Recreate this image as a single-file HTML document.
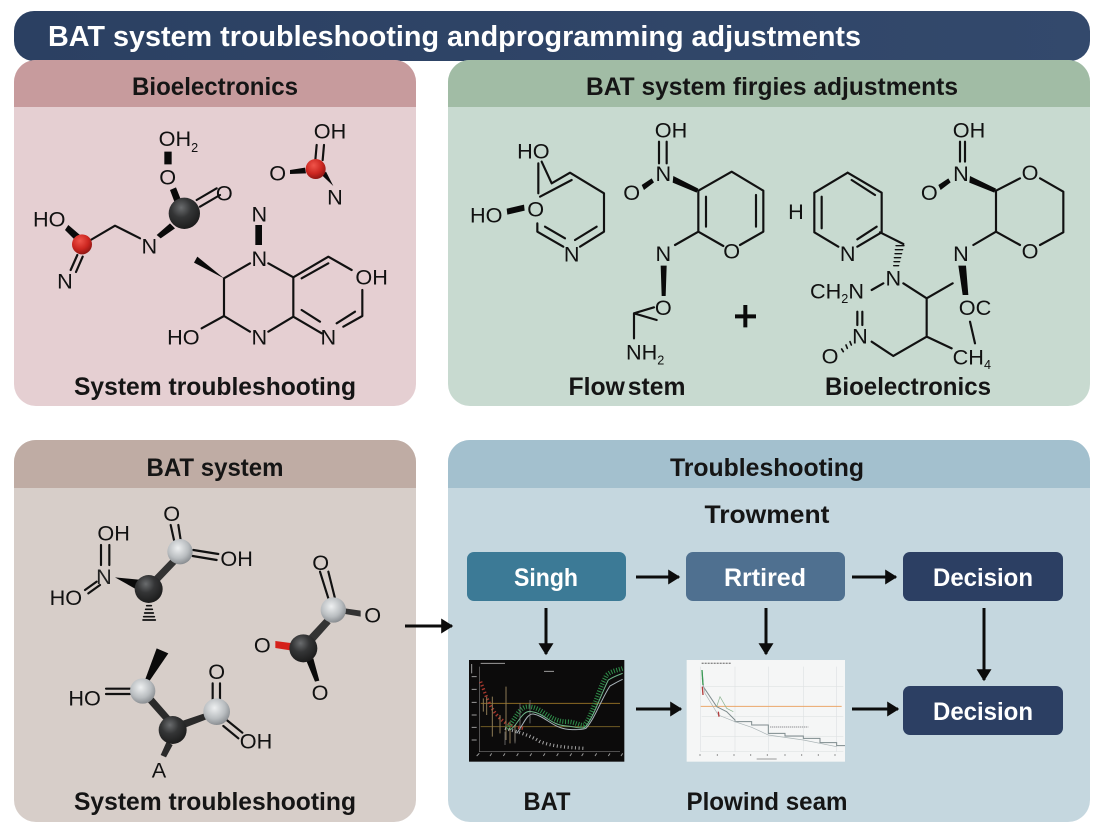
<!DOCTYPE html>
<html><head><meta charset="utf-8"><title>BAT system troubleshooting</title>
<style>
html,body{margin:0;padding:0;background:#fff;width:1104px;height:832px;overflow:hidden}
svg{display:block}
text{font-family:"Liberation Sans",sans-serif;fill:#141414}
.h{font-weight:700;font-size:25px;fill:#151515;text-anchor:middle}
.b{font-weight:700;font-size:25px;fill:#fff;text-anchor:middle}
.t{font-size:65px;fill:#111}
.c{text-anchor:middle}
.s{font-size:38px}
.l{fill:none;stroke:#111;stroke-width:6.5;stroke-linecap:round;stroke-linejoin:round}
.a{fill:none;stroke:#0c0c0c;stroke-width:3}
</style></head><body>
<svg width="1104" height="832" viewBox="0 0 1104 832" xmlns="http://www.w3.org/2000/svg">
<defs>
<radialGradient id="k" cx="40%" cy="32%" r="70%"><stop offset="0" stop-color="#6a6c6e"/><stop offset=".45" stop-color="#343536"/><stop offset="1" stop-color="#1b1b1b"/></radialGradient>
<radialGradient id="g" cx="42%" cy="36%" r="68%"><stop offset="0" stop-color="#eef0f1"/><stop offset=".6" stop-color="#b9bdc0"/><stop offset="1" stop-color="#83878b"/></radialGradient>
<radialGradient id="r" cx="40%" cy="32%" r="70%"><stop offset="0" stop-color="#f0544a"/><stop offset=".6" stop-color="#cc2620"/><stop offset="1" stop-color="#8d1613"/></radialGradient>
<linearGradient id="tb" x1="0" x2="1" y1="0" y2="0"><stop offset="0" stop-color="#2b4062"/><stop offset="1" stop-color="#33496c"/></linearGradient>
<marker id="ah" markerWidth="5" markerHeight="5" refX="3.6" refY="2.5" orient="auto" markerUnits="strokeWidth"><path d="M0,0L4,2.5L0,5z" fill="#0c0c0c"/></marker>
</defs>

<!-- title -->
<rect x="14" y="11" width="1076" height="50" rx="20" fill="url(#tb)"/>
<text x="48" y="46" font-size="29" font-weight="700" style="fill:#fff" textLength="813" lengthAdjust="spacingAndGlyphs">BAT system troubleshooting andprogramming adjustments</text>

<!-- panels -->
<rect x="14" y="60" width="402" height="346" rx="22" fill="#e5cfd2"/>
<path d="M14,107V82a22,22 0 0 1 22,-22H394a22,22 0 0 1 22,22V107z" fill="#c79b9d"/>
<rect x="448" y="60" width="642" height="346" rx="22" fill="#c8dad0"/>
<path d="M448,107V82a22,22 0 0 1 22,-22H1068a22,22 0 0 1 22,22V107z" fill="#a1bca5"/>
<rect x="14" y="440" width="402" height="382" rx="22" fill="#d7cec9"/>
<path d="M14,488V462a22,22 0 0 1 22,-22H394a22,22 0 0 1 22,22V488z" fill="#bfaca4"/>
<rect x="448" y="440" width="642" height="382" rx="22" fill="#c5d7df"/>
<path d="M448,488V462a22,22 0 0 1 22,-22H1068a22,22 0 0 1 22,22V488z" fill="#a3c0ce"/>

<!-- headings -->
<text class="h" x="215" y="95" textLength="166" lengthAdjust="spacingAndGlyphs">Bioelectronics</text>
<text class="h" x="772" y="95" textLength="372" lengthAdjust="spacingAndGlyphs">BAT system firgies adjustments</text>
<text class="h" x="215" y="476" textLength="137" lengthAdjust="spacingAndGlyphs">BAT system</text>
<text class="h" x="767" y="476" textLength="194" lengthAdjust="spacingAndGlyphs">Troubleshooting</text>
<text class="h" x="767" y="523" textLength="125" lengthAdjust="spacingAndGlyphs">Trowment</text>
<text class="h" x="215" y="395" textLength="282" lengthAdjust="spacingAndGlyphs">System troubleshooting</text>
<text class="h" x="627" y="395" textLength="117" lengthAdjust="spacingAndGlyphs" style="word-spacing:-4px">Flow stem</text>
<text class="h" x="908" y="395" textLength="166" lengthAdjust="spacingAndGlyphs">Bioelectronics</text>
<text class="h" x="215" y="810" textLength="282" lengthAdjust="spacingAndGlyphs">System troubleshooting</text>
<text class="h" x="547" y="810" textLength="47" lengthAdjust="spacingAndGlyphs">BAT</text>
<text class="h" x="767" y="810" textLength="161" lengthAdjust="spacingAndGlyphs">Plowind seam</text>

<!-- Panel 1 molecules -->
<g transform="translate(0,60) scale(.33333)">
<path class="l" d="M750,610L672,655L672,768L750,815M805,815L880,770L880,652L805,610M880,652L985,590L1055,630M905,655L985,610M1087,690V768L1030,800M1065,755L1010,790M880,770L965,820M905,750L960,785M605,805L672,768M420,535L345,497L272,540M590,420L650,385M600,440L660,405"/>
<path d="M672,655L582,608L592,590z" fill="#0a0a0a"/>
<path d="M766,495h20v60h-20zM493,275h22v38h-22z" fill="#0a0a0a"/>
<path d="M510,390L528,382L545,425L525,430zM470,525L482,535L525,505L510,490zM195,510L205,495L240,525L225,540zM870,330L915,323L918,340L870,342zM965,345L978,335L1000,378z" fill="#0a0a0a"/>
<path class="l" d="M212,630L232,585M228,636L248,590M950,255L946,300M972,255L968,300"/>
<circle cx="553" cy="460" r="47" fill="url(#k)"/><circle cx="246" cy="553" r="30" fill="url(#r)"/><circle cx="947" cy="327" r="30" fill="url(#r)"/>
<text class="t" x="476" y="258">OH<tspan class="s" dy="18">2</tspan></text>
<text class="t c" x="503" y="374">O</text><text class="t c" x="673" y="422">O</text>
<text class="t" x="99" y="500">HO</text><text class="t c" x="195" y="685">N</text><text class="t c" x="448" y="581">N</text>
<text class="t c" x="990" y="236">OH</text><text class="t c" x="833" y="361">O</text><text class="t c" x="1005" y="434">N</text>
<text class="t c" x="778" y="484">N</text><text class="t c" x="778" y="618">N</text><text class="t c" x="1115" y="674">OH</text>
<text class="t c" x="985" y="854">N</text><text class="t c" x="778" y="854">N</text><text class="t c" x="550" y="854">HO</text>
</g>

<!-- Panel 2 molecule left + middle -->
<g transform="translate(450,100) scale(.33333)">
<path class="l" d="M265,190V280M275,185L305,250M270,290L365,240M305,250L360,218L462,280V395L390,440M440,380L375,420M262,370V395L340,440M285,380L345,415"/>
<path d="M170,326L222,314L224,332L172,344z" fill="#0a0a0a"/>
<text class="t c" x="250" y="175">HO</text><text class="t" x="60" y="368">HO</text><text class="t c" x="257" y="350">O</text><text class="t c" x="365" y="485">N</text>
<path class="l" d="M627,125V190M650,125V190M745,272L845,215L940,272V395L870,435M918,285V380M745,272V395L820,438M768,290V380M745,395L675,435M612,622L552,640V715M552,640L620,660"/>
<path d="M575,255L605,235L612,247L582,270zM670,228L745,266L740,278L668,248zM632,497H650L647,588H635z" fill="#0a0a0a"/>
<path d="M855,643H918V655H855zM880,615H892V682H880z" fill="#0a0a0a"/>
<text class="t c" x="663" y="113">OH</text><text class="t c" x="640" y="243">N</text><text class="t c" x="545" y="300">O</text><text class="t c" x="845" y="475">O</text><text class="t c" x="640" y="483">N</text><text class="t c" x="640" y="645">O</text>
<text class="t" x="528" y="778">NH<tspan class="s" dy="16">2</tspan></text>
</g>

<!-- Panel 2 molecule right -->
<g transform="translate(770,100) scale(.33333)">
<path class="l" d="M570,125V185M585,125V185M678,272L750,235M810,235L880,275V397L810,435M750,435L678,395M678,272V395M678,395L610,435M600,665L615,730M330,397L400,432M233,218L335,278V397L262,440M233,218L133,278V397L205,440M245,240L315,285M155,290V385M320,380L262,418M305,570L340,550M262,635V675M277,635V675M305,725L370,768L470,710L545,745M470,710V595L400,550M470,595L548,550"/>
<path d="M505,255L535,235L542,247L512,270zM600,228L678,266L673,278L598,248zM565,497H588L595,585H578z" fill="#0a0a0a"/>
<path class="l" style="stroke-width:4" d="M378,437H402M376,449H398M375,461H395M373,473H392M372,485H389M371,497H386"/>
<path class="l" style="stroke-width:5" d="M215,747L220,755M228,735L232,745M240,725L244,735"/>
<text class="t c" x="597" y="113">OH</text><text class="t c" x="573" y="243">N</text><text class="t c" x="478" y="300">O</text><text class="t c" x="780" y="240">O</text><text class="t c" x="780" y="475">O</text><text class="t c" x="573" y="483">N</text>
<text class="t c" x="615" y="645">OC</text><text class="t" x="548" y="793">CH<tspan class="s" dy="14">4</tspan></text>
<text class="t c" x="370" y="557">N</text><text class="t c" x="233" y="483">N</text><text class="t c" x="78" y="357">H</text>
<text class="t" x="120" y="595">CH<tspan class="s" dy="14">2</tspan><tspan dy="-14">N</tspan></text>
<text class="t c" x="270" y="730">N</text><text class="t c" x="180" y="790">O</text>
</g>

<!-- Panel 3 molecules -->
<g transform="translate(20,490) scale(.33333)">
<path class="l" d="M243,165V225M268,165V225M195,300L230,275M205,310L240,285M452,105L462,150M475,105L482,150M520,180L595,192M518,198L590,210"/>
<path d="M285,262L385,272L370,310z" fill="#0a0a0a"/>
<path d="M400,262L455,205L470,220L418,275z" fill="#333"/>
<path class="l" style="stroke-width:5" d="M380,347H394M377,358H397M374,369H400M371,380H403M369,390H406"/>
<circle cx="386" cy="297" r="42" fill="url(#k)"/><circle cx="480" cy="185" r="38" fill="url(#g)"/>
<text class="t c" x="281" y="152">OH</text><text class="t c" x="252" y="282" style="fill:#222">N</text><text class="t" x="89" y="345">HO</text><text class="t c" x="455" y="93">O</text><text class="t c" x="650" y="228">OH</text>

<path class="l" d="M900,245L925,325M925,245L945,325"/>
<path d="M975,355L1022,362V380L975,372zM850,455L915,385L932,400L870,470z" fill="#333"/>
<path d="M766,453L820,460L816,482L766,474z" fill="#d5211a"/>
<path d="M860,515L880,505L898,572L885,575z" fill="#0a0a0a"/>
<circle cx="940" cy="360" r="38" fill="url(#g)"/><circle cx="850" cy="475" r="42" fill="url(#k)"/>
<text class="t c" x="902" y="240">O</text><text class="t c" x="1058" y="397">O</text><text class="t c" x="727" y="487">O</text><text class="t c" x="900" y="630">O</text>

<path d="M410,475L445,490L385,578L375,570z" fill="#0a0a0a"/>
<path class="l" d="M258,596H330M258,612H330M578,580V630M600,580V630M620,690L667,728M610,708L655,745"/>
<path d="M382,635L398,620L455,685L440,700zM480,695L560,668L565,686L490,715zM440,755L458,765L438,802L422,795z" fill="#2a2a2a"/>
<circle cx="368" cy="603" r="38" fill="url(#g)"/><circle cx="458" cy="720" r="42" fill="url(#k)"/><circle cx="590" cy="665" r="40" fill="url(#g)"/>
<text class="t" x="145" y="646">HO</text><text class="t c" x="590" y="567">O</text><text class="t c" x="708" y="775">OH</text><text class="t c" x="417" y="862">A</text>
</g>

<!-- Flow boxes -->
<rect x="467" y="552" width="159" height="49" rx="7" fill="#3c7a96"/>
<rect x="686" y="552" width="159" height="49" rx="7" fill="#4f7090"/>
<rect x="903" y="552" width="160" height="49" rx="7" fill="#2c3f63"/>
<rect x="903" y="686" width="160" height="49" rx="7" fill="#2c3f63"/>
<text class="b" x="546" y="586" textLength="64" lengthAdjust="spacingAndGlyphs">Singh</text>
<text class="b" x="765" y="586" textLength="82" lengthAdjust="spacingAndGlyphs">Rrtired</text>
<text class="b" x="983" y="586" textLength="100" lengthAdjust="spacingAndGlyphs">Decision</text>
<text class="b" x="983" y="720" textLength="100" lengthAdjust="spacingAndGlyphs">Decision</text>

<!-- Arrows -->
<path class="a" d="M405,626H452" marker-end="url(#ah)"/>
<path class="a" d="M636,577H679" marker-end="url(#ah)"/>
<path class="a" d="M852,577H896" marker-end="url(#ah)"/>
<path class="a" d="M546,608V654" marker-end="url(#ah)"/>
<path class="a" d="M766,608V654" marker-end="url(#ah)"/>
<path class="a" d="M984,608V680" marker-end="url(#ah)"/>
<path class="a" d="M636,709H681" marker-end="url(#ah)"/>
<path class="a" d="M852,709H898" marker-end="url(#ah)"/>

<!-- Charts -->
<g transform="translate(460,650) scale(.33333)">
<rect x="27" y="30" width="466" height="305" fill="#0c0b0b"/>
<path d="M58,50V305H480" fill="none" stroke="#777" stroke-width="2"/>
<path d="M62,160H480" stroke="#8b6a24" stroke-width="3" fill="none"/>
<path d="M62,230H480" stroke="#6e5a24" stroke-width="3" fill="none"/>
<path d="M62,95C75,130 90,175 115,200C135,220 150,228 190,235" fill="none" stroke="#a8382e" stroke-width="10" stroke-dasharray="4 7"/>
<path d="M70,145V185M80,140V195M97,140V260M120,195V250M138,110V270M150,215V280M165,225V275" stroke="#8b7a55" stroke-width="3" fill="none"/>
<path d="M140,235C165,215 175,165 210,170C250,175 270,215 320,215C345,215 360,228 372,225C395,205 410,130 440,75C455,62 475,60 488,55" fill="none" stroke="#2f8f4a" stroke-width="14" stroke-dasharray="3 5"/>
<path d="M150,240C175,225 185,178 215,185C255,190 270,225 320,228C345,230 365,238 375,232C400,205 420,140 445,90C460,80 475,75 488,70" fill="none" stroke="#6fb58a" stroke-width="3"/>
<path d="M170,250C190,225 200,190 220,192C255,198 280,235 325,238C350,240 365,240 378,235C405,205 425,145 450,108C465,100 478,92 488,88" fill="none" stroke="#a9b4ba" stroke-width="3"/>
<path d="M135,235C170,245 210,255 240,275C280,290 320,292 370,295" fill="none" stroke="#a7a7a7" stroke-width="10" stroke-dasharray="3 8"/>
<path d="M180,160V240M210,150V220M135,245V285M165,235V280" stroke="#8a8a8a" stroke-width="2" fill="none"/>
<path d="M62,40H135M252,64H282M35,42V70M35,80H50M35,118H50M35,157H50M35,195H50M35,232H50M35,270H50" stroke="#9b9b9b" stroke-width="3" fill="none"/>
<path d="M58,310L50,318M95,310L90,318M135,310L130,318M175,310L170,318M215,310L210,318M255,310L250,318M295,310L290,318M335,310L330,318M370,310L365,318M410,310L405,318M450,310L445,318M488,310L483,318" stroke="#999" stroke-width="3"/>
<rect x="680" y="30" width="475" height="305" fill="#f5f6f6"/>
<path d="M722,50V305H1150M725,110H1150M725,200H1150M725,260H1150M825,50V305M925,50V305M1030,50V305M1130,50V305" fill="none" stroke="#dfe2e4" stroke-width="2"/>
<path d="M722,169H1145" stroke="#eaa76a" stroke-width="3" fill="none"/>
<path d="M726,62L730,110L770,170L800,185L825,210V215H875V225H925V250H975V258H1030V265H1080V278H1130V287H1155" fill="none" stroke="#7e8b8d" stroke-width="3"/>
<path d="M726,85L735,130L775,195L825,215L875,232L925,255L1030,270L1130,290" fill="none" stroke="#a9b3b5" stroke-width="2"/>
<path d="M726,60L729,105" stroke="#3b9a55" stroke-width="4" fill="none"/>
<path d="M727,110L729,135M775,185L777,200" stroke="#b33b3b" stroke-width="4" fill="none"/>
<path d="M770,170L780,140L800,175L820,185" fill="none" stroke="#8ab28f" stroke-width="2"/>
<path d="M930,231H1045" stroke="#8d8f91" stroke-width="3" stroke-dasharray="4 2" fill="none"/>
<path d="M725,40H815" stroke="#888" stroke-width="4" stroke-dasharray="6 3" fill="none"/>
<path d="M720,312V318M772,312V318M822,312V318M872,312V318M922,312V318M975,312V318M1025,312V318M1075,312V318M1125,312V318M890,327H950" stroke="#999" stroke-width="3" fill="none"/>
</g>
</svg>
</body></html>
